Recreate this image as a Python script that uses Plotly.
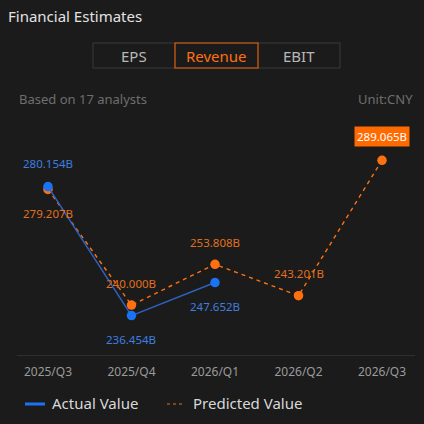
import plotly.graph_objects as go

quarters = ["2025/Q3", "2025/Q4", "2026/Q1", "2026/Q2", "2026/Q3"]
actual = [280.154, 236.454, 247.652, None, None]
predicted = [279.207, 240.000, 253.808, 243.201, 289.065]
tabs = ["EPS", "Revenue", "EBIT"]
analysts = 17

BG = "#1b1b1b"
BLUE = "#1a73f0"
BLUE_LINE = "#2c62c0"
BLUE_TXT = "#3d7fe0"
ORANGE = "#ff7010"
ORANGE_TXT = "#e0701e"
FONT = "Noto Sans"

# plot area in pixels (for placing the header items in paper coords)
L, R, T, B = 17, 415, 128, 355


def px(x):
    return (x - L) / (R - L)


def py_(y):
    return (B - y) / (B - T)


fig = go.Figure()

fig.add_trace(go.Scatter(
    x=quarters, y=predicted, mode="lines+markers",
    line=dict(color=ORANGE, width=1.4, dash="4px,4px"),
    marker=dict(color=ORANGE, size=9.5),
    showlegend=False, hoverinfo="skip"))

fig.add_trace(go.Scatter(
    x=quarters, y=actual, mode="lines+markers",
    line=dict(color=BLUE_LINE, width=1.5),
    marker=dict(color=BLUE, size=9.5),
    showlegend=False, hoverinfo="skip"))

annotations = []
# labels: which one goes above at each point
for i, q in enumerate(quarters):
    a = actual[i]
    p = predicted[i]
    if a is not None and a >= p:
        a_shift, p_shift = 23, -24
    elif a is not None:
        a_shift, p_shift = -24, 22
    else:
        a_shift, p_shift = 0, 22
    if a is not None:
        annotations.append(dict(x=q, y=a, text=f"{a:.3f}B", showarrow=False,
                                yshift=a_shift, font=dict(color=BLUE_TXT, size=11.5, family=FONT)))
    if i == len(quarters) - 1:
        annotations.append(dict(x=q, y=p, text=f"{p:.3f}B", showarrow=False,
                                yshift=24, bgcolor="#ff6a00", borderpad=2,
                                font=dict(color="#ffffff", size=11.5, family=FONT)))
    else:
        annotations.append(dict(x=q, y=p, text=f"{p:.3f}B", showarrow=False,
                                yshift=p_shift, font=dict(color=ORANGE_TXT, size=11.5, family=FONT)))

# header
annotations.append(dict(xref="paper", yref="paper", x=px(6), y=py_(16), xanchor="left",
                        yanchor="middle", text="Financial Estimates", showarrow=False,
                        font=dict(color="#e2e2e2", size=15, family=FONT)))
tab_edges = [93, 175, 258, 340]
for i, name in enumerate(tabs):
    cx = (tab_edges[i] + tab_edges[i + 1]) / 2
    annotations.append(dict(xref="paper", yref="paper", x=px(cx), y=py_(56), xanchor="center",
                            yanchor="middle", text=name, showarrow=False,
                            font=dict(color=ORANGE if name == "Revenue" else "#b8b8b8",
                                      size=15, family=FONT)))
annotations.append(dict(xref="paper", yref="paper", x=px(17), y=py_(99), xanchor="left",
                        yanchor="middle", text=f"Based on {analysts} analysts", showarrow=False,
                        font=dict(color="#6e6e6e", size=13, family=FONT)))
annotations.append(dict(xref="paper", yref="paper", x=px(415), y=py_(99), xanchor="right",
                        yanchor="middle", text="Unit:CNY", showarrow=False,
                        font=dict(color="#6e6e6e", size=13, family=FONT)))

# legend
annotations.append(dict(xref="paper", yref="paper", x=px(50), y=py_(403), xanchor="left",
                        yanchor="middle", text="Actual Value", showarrow=False,
                        font=dict(color="#d8d8d8", size=15, family=FONT)))
annotations.append(dict(xref="paper", yref="paper", x=px(191), y=py_(403), xanchor="left",
                        yanchor="middle", text="Predicted Value", showarrow=False,
                        font=dict(color="#d8d8d8", size=15, family=FONT)))

shapes = [
    dict(type="rect", xref="paper", yref="paper", x0=px(93), x1=px(340), y0=py_(43), y1=py_(68),
         line=dict(color="#3a3a3a", width=1)),
    dict(type="rect", xref="paper", yref="paper", x0=px(175), x1=px(258), y0=py_(43), y1=py_(68),
         line=dict(color="#e0620f", width=1.2)),
    dict(type="line", xref="paper", yref="paper", x0=px(25), x1=px(45), y0=py_(404), y1=py_(404),
         line=dict(color=BLUE, width=3)),
    dict(type="line", xref="paper", yref="paper", x0=px(167), x1=px(185), y0=py_(404), y1=py_(404),
         line=dict(color=ORANGE_TXT, width=1, dash="3px,3px")),
]

fig.update_layout(
    width=424, height=424,
    margin=dict(l=L, r=424 - R, t=T, b=424 - B),
    paper_bgcolor=BG, plot_bgcolor=BG,
    annotations=annotations, shapes=shapes,
    xaxis=dict(type="category", range=[-0.371, 4.395], showgrid=False, zeroline=False,
               showline=True, linecolor="#2f2f2f", linewidth=1,
               ticks="outside", ticklen=6, tickcolor=BG,
               tickfont=dict(color="#9a9a9a", size=12, family=FONT), fixedrange=True),
    yaxis=dict(range=[223.1, 300], visible=False, fixedrange=True),
)

fig.write_html("out.html", config={"displayModeBar": False},
               post_script="document.body.style.margin='0';document.body.style.overflow='hidden';")
